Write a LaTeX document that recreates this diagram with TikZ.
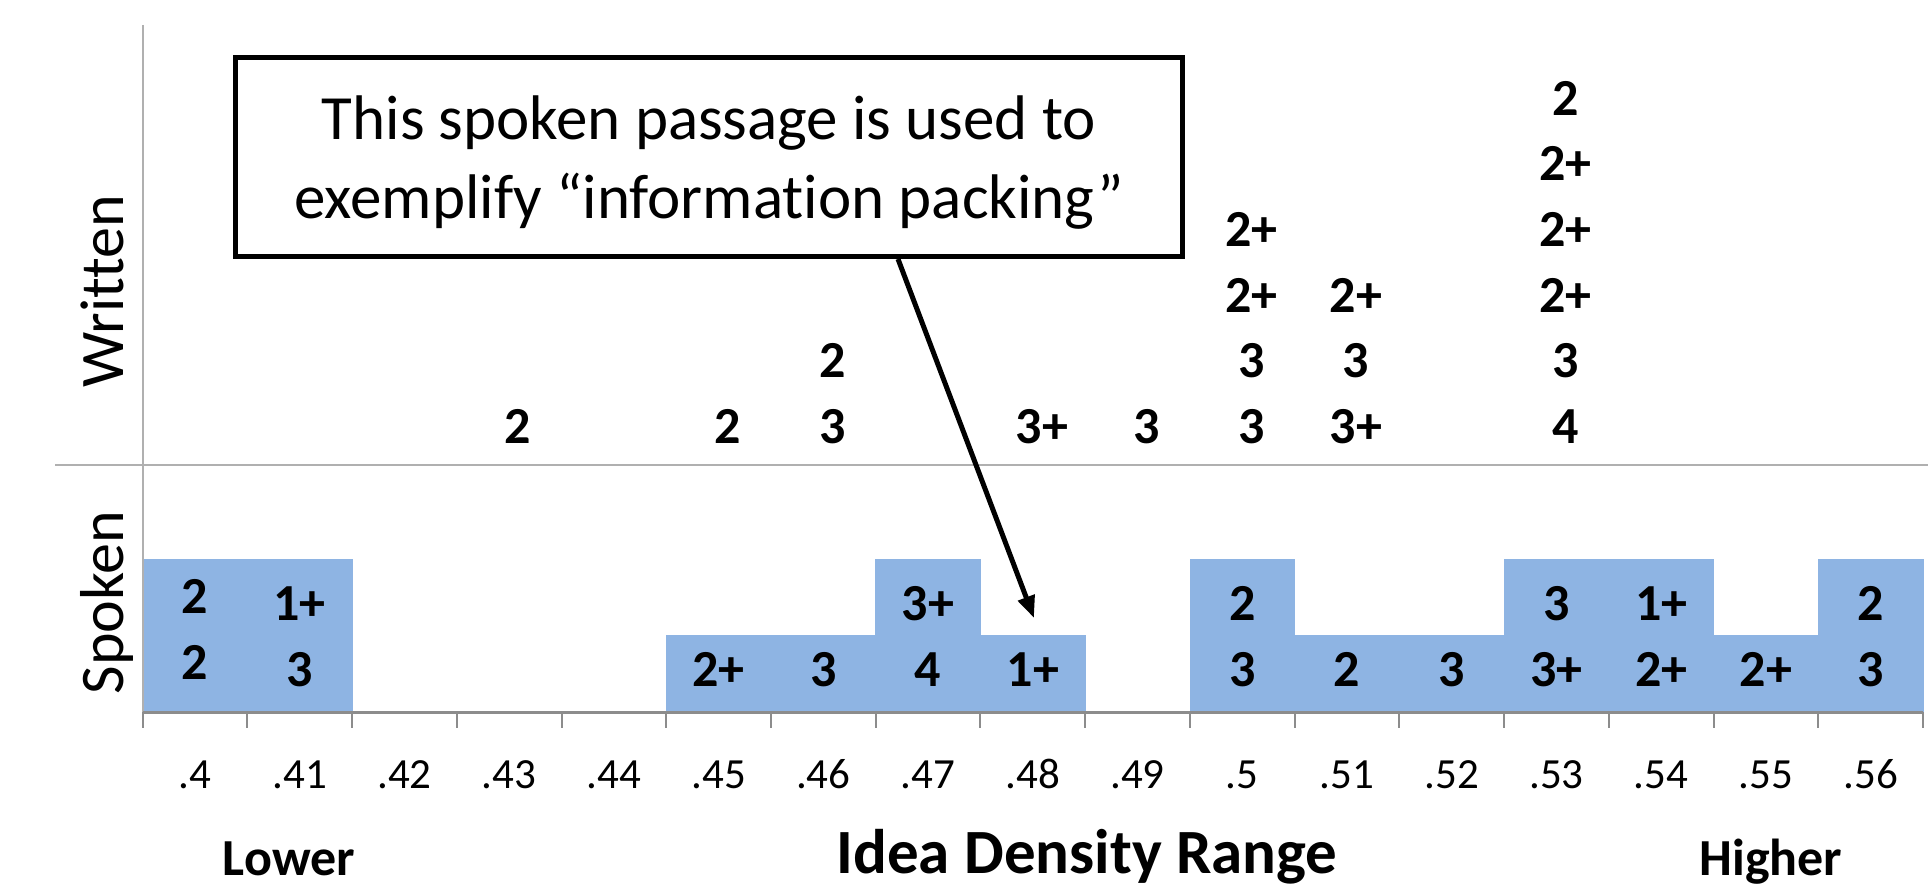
\documentclass[tikz,border=0pt]{standalone}
\usepackage{fontspec}
\setmainfont{Carlito}[Ligatures=NoCommon]
\usetikzlibrary{arrows.meta}
\definecolor{barblue}{HTML}{8EB4E3}
\definecolor{axisgray}{HTML}{B0B0B0}
\definecolor{basegray}{HTML}{8C8C8C}
\begin{document}
\begin{tikzpicture}[x=1pt,y=-1pt,
  val/.style={font=\fontsize{52}{52}\selectfont\bfseries, inner sep=0pt, anchor=base},
  ticklab/.style={font=\fontsize{43}{43}\selectfont, inner sep=0pt, anchor=base},
  catlab/.style={font=\fontsize{52}{52}\selectfont\bfseries, inner sep=0pt, anchor=base},
  sidelab/.style={font=\fontsize{62}{62}\selectfont, inner sep=0pt, anchor=base, rotate=90},
  callout/.style={draw=black, line width=5pt, minimum width=947pt, minimum height=199pt, inner sep=0pt, align=center, font=\fontsize{63}{78.7}\selectfont},
  bar/.style={fill=barblue, draw=barblue, line width=0.6pt}]
\useasboundingbox (0,0) rectangle (1928,888);
% bars
\foreach \i/\yt in {0/559.5,1/559.5,5/635.7,6/635.7,7/559.5,8/635.7,10/559.5,11/635.7,12/635.7,13/559.5,14/559.5,15/635.7,16/559.5} {
  \pgfmathsetmacro\xa{142.6+\i*104.73}
  \pgfmathsetmacro\xb{\xa+104.73}
  \path[bar] (\xa,\yt) rectangle (\xb,711.5);
}
% axes
\draw[axisgray, line width=2pt] (143,25) -- (143,728);
\draw[axisgray, line width=2pt] (55,465) -- (1928,465);
\draw[basegray, line width=3pt] (142.6,712) -- (1923,712);
\foreach \k in {0,...,17} {
  \pgfmathsetmacro\xt{142.6+\k*104.73}
  \draw[basegray, line width=2pt] (\xt,712) -- (\xt,728);
}
% tick labels
\foreach \i/\t in {0/.4,1/.41,2/.42,3/.43,4/.44,5/.45,6/.46,7/.47,8/.48,9/.49,10/.5,11/.51,12/.52,13/.53,14/.54,15/.55,16/.56} {
  \pgfmathsetmacro\xc{142.6+(\i+0.5)*104.73}
  \node[ticklab] (t\i) at (\xc,788) {\t};
}
% spoken values
\node[val] (s0a) at (194.9,613.5) {2};
\node[val] (s0b) at (194.9,679.5) {2};
\foreach \i/\a/\b in {1/1+/3,7/3+/4,10/2/3,13/3/3+,14/1+/2+,16/2/3} {
  \pgfmathsetmacro\xc{142.6+(\i+0.5)*104.73}
  \node[val] (s\i a) at (\xc,620.5) {\a};
  \node[val] (s\i b) at (\xc,686.5) {\b};
}
\foreach \i/\b in {5/2+,6/3,8/1+,11/2,12/3,15/2+} {
  \pgfmathsetmacro\xc{142.6+(\i+0.5)*104.73}
  \node[val] (s\i b) at (\xc,686.5) {\b};
}
% written values: column/row/text
\foreach \i/\r/\t in {3/0/2,5/0/2,6/0/3,6/1/2,8/0/3+,9/0/3,
  10/0/3,10/1/3,10/2/2+,10/3/2+,
  11/0/3+,11/1/3,11/2/2+,
  13/0/4,13/1/3,13/2/2+,13/3/2+,13/4/2+,13/5/2} {
  \pgfmathsetmacro\xc{142.6+(\i+0.5)*104.73+9}
  \pgfmathsetmacro\yc{443-\r*65.5}
  \node[val] (w\i-\r) at (\xc,\yc) {\t};
}
% side labels
\node[sidelab] (written) at (123,291.5) {Written};
\node[sidelab] (spoken) at (123,602.5) {Spoken};
% category labels
\node[catlab] (lower) at (289,875) {Lower};
\node[catlab, font=\fontsize{63}{63}\selectfont\bfseries] (range) at (1087,873) {Idea Density Range};
\node[catlab] (higher) at (1771,875) {Higher};
% callout
\node[callout] (box) at (709,157) {\rule{0pt}{55pt}This spoken passage is used to\\exemplify “information packing”};
\coordinate (tip) at (1034,618);
\draw[line width=5pt, -{Triangle[length=22pt,width=17pt]}] ([xshift=189pt]box.south) -- (tip);
\end{tikzpicture}
\end{document}
